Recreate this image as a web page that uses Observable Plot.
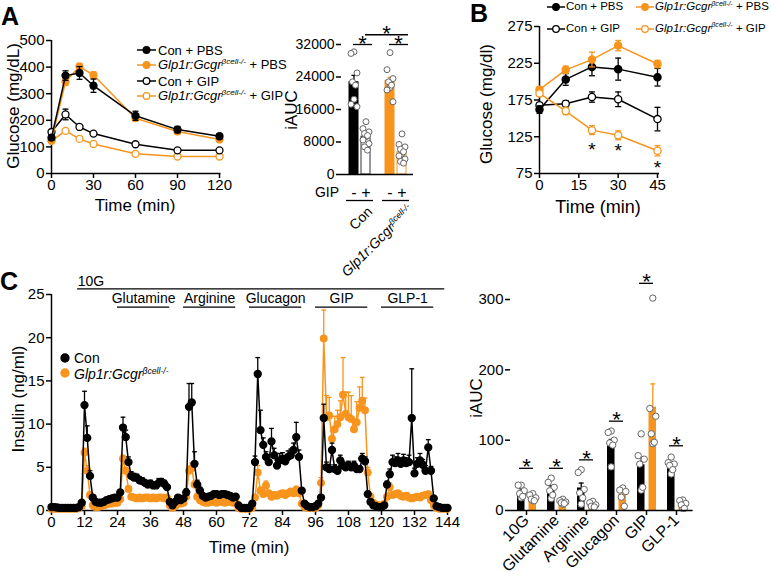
<!DOCTYPE html>
<html><head><meta charset="utf-8">
<script src="https://cdn.jsdelivr.net/npm/d3@7"></script>
<script src="https://cdn.jsdelivr.net/npm/@observablehq/plot@0.6"></script>
<style>
body{margin:0;background:#fff;}
#fig{position:relative;width:771px;height:575px;overflow:hidden;font-family:"Liberation Sans",Arial,sans-serif;color:#000;background:#fff;}
#fig svg{overflow:visible;}
.t{position:absolute;white-space:nowrap;line-height:1;}
.t sup{font-size:0.62em;vertical-align:0;position:relative;top:-0.62em;}
</style></head><body><div id="fig"></div>
<script>
// ---------------- Panel A : glucose curves ----------------
const timeA = [0, 10, 20, 30, 60, 90, 120];
const conPBS_A = [135, 368, 378, 330, 217, 165, 140];
const conPBS_Aerr = [10, 18, 24, 25, 17, 12, 10];
const koPBS_A = [125, 345, 402, 370, 208, 158, 128];
const koPBS_Aerr = [8, 14, 12, 12, 10, 9, 8];
const conGIP_A = [156, 222, 175, 150, 110, 87, 87];
const conGIP_Aerr = [6, 20, 8, 5, 4, 3, 3];
const koGIP_A = [123, 160, 130, 111, 74, 64, 64];
const koGIP_Aerr = [4, 5, 4, 4, 3, 3, 3];
const ticksAx = [0, 30, 60, 90, 120];
const ticksAy = [0, 100, 200, 300, 400, 500];

// ---------------- Panel A : iAUC ----------------
const aucKeysA = ["ConPBS", "ConGIP", "KOPBS", "KOGIP"];
const gipSignA = ["-", "+", "-", "+"];
const aucMeanA = [22700, 9300, 23000, 5500];
const aucErrA = [1700, 650, 900, 650];
const ptsConPBS_A = [30200, 29800, 25000, 22800, 22000, 18500, 17300, 16700];
const ptsConGIP_A = [13000, 11300, 10500, 10100, 9600, 9300, 8500, 7600, 6800, 6000];
const ptsKoPBS_A = [30000, 25800, 23600, 22800, 22000, 21400, 20800, 17900];
const ptsKoGIP_A = [10000, 7400, 6800, 6200, 5600, 5200, 4600, 3800, 3200, 2800];
const ticksAucA = [0, 8000, 16000, 24000, 32000];

// ---------------- Panel B ----------------
const timeB = [0, 10, 20, 30, 45];
const conPBS_B = [162, 203, 220, 217, 206];
const conPBS_Berr = [5, 8, 12, 15, 12];
const koPBS_B = [189, 216, 230, 249, 224];
const koPBS_Berr = [4, 5, 10, 7, 5];
const conGIP_B = [168, 170, 179, 176, 149];
const conGIP_Berr = [3, 4, 7, 10, 16];
const koGIP_B = [184, 160, 134, 127, 106];
const koGIP_Berr = [4, 5, 6, 6, 7];
const starTimesB = [20, 30, 45];
const starValsB = [109, 107.5, 85];
const ticksBx = [0, 15, 30, 45];
const ticksBy = [75, 125, 175, 225, 275];

// ---------------- Panel C : perifusion ----------------
const conC = [0.4,0.4,0.35,0.3,0.3,0.3,0.3,0.3,0.3,0.3,0.4,0.9,12.2,8.4,4.0,1.5,1.0,0.9,0.9,1.0,
  1.2,1.3,1.4,1.5,1.5,2.1,9.6,8.5,5.6,4.0,3.8,3.8,3.5,3.4,3.2,3.0,3.1,2.9,2.9,3.2,
  3.3,3.1,2.7,1.0,0.6,1.0,1.5,1.2,1.4,2.1,12.0,12.5,5.4,3.0,2.3,1.7,1.5,1.6,1.7,1.9,
  1.9,1.8,1.9,1.9,1.8,1.7,1.5,1.6,0.6,0.3,0.3,0.3,0.3,0.8,5.6,15.8,9.3,7.6,6.2,5.6,
  8.0,6.4,5.2,5.8,6.0,5.7,6.2,6.4,7.0,8.5,6.2,2.3,0.8,0.5,0.4,0.4,0.5,0.8,1.5,10.7,
  5.0,4.8,7.0,4.8,4.6,5.8,5.2,5.0,5.2,5.0,5.2,4.8,4.8,6.0,5.7,1.9,1.0,0.6,0.5,0.4,
  0.4,0.6,3.0,4.2,5.6,5.5,5.8,5.4,5.8,5.5,5.6,10.7,4.3,5.4,5.8,5.3,4.6,7.3,4.6,1.4,
  0.5,0.4,0.3,0.3,0.3];
const conCerr = [0,0,0,0,0,0,0,0,0,0,0,0.2,1.6,1.4,0.6,0.3,0.2,0.2,0.2,0.2,
  0.2,0.2,0.2,0.2,0.2,0.3,1.2,0.8,0.6,0.5,0.5,0.4,0.4,0.4,0.3,0.4,0.4,0.3,0.4,0.5,
  0.4,0.4,0.3,0.2,0.2,0.2,0.2,0.2,0.2,0.4,2.7,2.2,1.4,0.5,0.4,0.3,0.3,0.3,0.3,0.3,
  0.3,0.3,0.3,0.3,0.3,0.3,0.3,0.3,0.1,0.1,0.1,0.1,0.1,0.1,0.7,1.9,2.3,0.8,0.6,0.6,
  1.5,0.8,0.6,0.8,0.7,0.6,0.7,0.7,0.8,1.7,0.8,0.3,0.1,0.1,0.1,0.1,0.1,0.1,0.3,1.6,
  0.6,0.5,0.8,0.5,0.5,0.6,0.5,0.5,0.5,0.4,0.5,0.4,0.4,0.6,0.5,0.3,0.1,0.1,0.1,0.1,
  0.1,0.1,0.4,0.6,0.8,0.7,0.8,0.6,0.7,0.6,0.8,5.7,0.6,0.7,0.8,0.6,0.6,0.9,0.5,0.2,
  0.1,0.1,0.1,0.1,0.1];
const koC = [0.2,0.2,0.2,0.2,0.2,0.2,0.2,0.2,0.2,0.2,0.3,0.5,6.7,4.6,1.8,0.6,0.4,0.4,0.5,0.6,
  0.7,0.8,0.8,0.9,0.9,1.3,6.0,4.6,2.5,1.6,1.5,1.4,1.5,1.4,1.5,1.5,1.4,1.5,1.4,1.5,
  1.5,1.4,1.5,0.6,0.3,0.5,0.9,0.8,0.9,1.6,4.6,4.9,3.0,1.6,1.2,1.0,0.9,0.9,1.0,1.0,
  0.9,1.0,1.0,0.9,1.0,1.0,0.9,0.9,0.3,0.2,0.2,0.2,0.2,0.3,1.5,4.4,2.3,1.9,2.9,2.0,
  1.6,1.8,1.7,1.9,2.0,1.8,2.0,2.2,2.0,2.4,2.0,0.8,0.4,0.3,0.3,0.3,0.3,0.6,3.2,19.9,
  10.8,11.0,8.3,9.4,10.0,10.8,13.4,11.2,10.8,10.6,9.4,10.2,11.9,12.7,11.6,4.4,1.6,0.9,0.7,0.6,
  0.5,0.8,1.6,2.7,1.8,1.9,2.0,1.7,1.6,1.7,1.5,1.4,1.5,1.6,1.5,1.7,1.8,1.9,1.2,0.6,
  0.3,0.2,0.2,0.2,0.2];
const koCerr = [0,0,0,0,0,0,0,0,0,0,0,0.1,0.5,0.6,0.3,0.1,0.1,0.1,0.1,0.1,
  0.1,0.1,0.1,0.1,0.1,0.2,0.4,0.4,0.3,0.2,0.2,0.2,0.2,0.2,0.2,0.2,0.2,0.2,0.2,0.2,
  0.2,0.2,0.2,0.1,0.1,0.1,0.1,0.1,0.1,0.2,0.5,0.6,0.4,0.2,0.2,0.1,0.1,0.1,0.1,0.1,
  0.1,0.1,0.1,0.1,0.1,0.1,0.1,0.1,0.1,0,0,0,0,0.1,0.3,0.8,0.4,0.3,0.5,0.3,
  0.3,0.3,0.3,0.3,0.3,0.3,0.3,0.3,0.3,0.4,0.3,0.1,0.1,0,0,0,0,0.1,0.6,3.3,
  2.5,2.1,0.9,1.5,1.6,1.9,4.3,2.5,2.9,2.7,1.2,2.4,2.4,2.7,1.4,0.6,0.2,0.1,0.1,0.1,
  0.1,0.1,0.2,0.5,0.3,0.3,0.3,0.3,0.3,0.3,0.3,0.3,0.3,0.3,0.3,0.3,0.3,0.3,0.2,0.1,
  0,0,0,0,0];
const ticksCx = [0, 12, 24, 36, 48, 60, 72, 84, 96, 108, 120, 132, 144];
const ticksCy = [0, 5, 10, 15, 20, 25];
const treatNames = ["Glutamine", "Arginine", "Glucagon", "GIP", "GLP-1"];
const treatStart = [24, 48, 72, 96, 120];
const treatEnd = [43, 67, 91, 115, 139];
const baseName = "10G", baseStart = 9.5, baseEnd = 143;

// ---------------- Panel C : iAUC ----------------
const stimC = ["10G", "Glutamine", "Arginine", "Glucagon", "GIP", "GLP-1"];
const aucConC = [27, 31, 32, 96, 65, 64];
const aucConCerr = [4, 4, 7, 5, 10, 3];
const aucKoC = [18, 12, 8, 23, 147, 9];
const aucKoCerr = [2, 1.5, 1, 4, 33, 2];
const ptsConC = [[36,36,28,24,20,18],[46,40,33,28,22,17],[58,54,30,25,18,9],[113,111,100,96,93,62],[109,78,73,66,33,29],[76,68,66,64,58,52]];
const ptsKoC = [[24,22,18,16,14,14],[16,14,12,11,10,9],[13,11,8,6,5,5],[32,29,27,19,6],[302,145,134,109,97,95],[15,14,10,8,3,3]];
const sigC = [60, 60, 72, 127, 323, 92];
const ticksCr = [0, 100, 200, 300];

// =====================================================
const fig = document.getElementById("fig");
const FONT = "'Liberation Sans', Arial, Helvetica, sans-serif";
const OR = "#f7941d";
const capSym = {draw(ctx, size) { const w = Math.sqrt(size / Math.PI); ctx.moveTo(-w, 0); ctx.lineTo(w, 0); }};
const st = (fs) => ({fontFamily: FONT, fontSize: fs + "px", color: "#000", background: "transparent", overflow: "visible"});

function place(svg, left, top) {
  svg.style.position = "absolute"; svg.style.left = left + "px"; svg.style.top = top + "px";
  fig.append(svg);
}
function addText(html, x, y, fs, o = {}) {
  const d = document.createElement("div");
  d.className = "t"; d.innerHTML = html; d.style.fontSize = fs + "px";
  d.style.left = x + "px"; d.style.top = y + "px";
  const ax = o.anchor === "middle" ? "-50%" : o.anchor === "end" ? "-100%" : "0";
  d.style.transform = o.rotate ? `translate(-50%,-50%) rotate(${o.rotate}deg)` : `translate(${ax},-50%)`;
  if (o.weight) d.style.fontWeight = o.weight;
  fig.append(d);
}
function addRot45(html, x, y, fs) {
  const d = document.createElement("div");
  d.className = "t"; d.innerHTML = html; d.style.fontSize = fs + "px";
  d.style.right = (771 - x) + "px"; d.style.top = y + "px";
  d.style.transformOrigin = "100% 0"; d.style.transform = "rotate(-45deg)";
  fig.append(d);
}
function addIcon(x, y, w, color, open, line = true, r = 3.3) {
  const s = d3.create("svg").attr("width", w).attr("height", 12)
    .style("position", "absolute").style("left", x + "px").style("top", (y - 6) + "px");
  if (line) s.append("line").attr("x1", 0).attr("x2", w).attr("y1", 6).attr("y2", 6).attr("stroke", color).attr("stroke-width", 1.5);
  s.append("circle").attr("cx", w / 2).attr("cy", 6).attr("r", r).attr("fill", open ? "#fff" : color).attr("stroke", color).attr("stroke-width", 1.3);
  fig.append(s.node());
}
const KO = "<i>Glp1r:Gcgr</i><sup><i>βcell-/-</i></sup>";

function groupMarks(xs, ys, es, color, open, both, r, capR) {
  const rows = xs.map((x, i) => ({x, y: ys[i], e: es[i]}));
  const er = rows.filter(d => d.e > 0);
  const m = [
    Plot.ruleX(er, {x: "x", y1: d => both ? d.y - d.e : d.y, y2: d => d.y + d.e, stroke: color, strokeWidth: 1.3}),
    Plot.dot(er, {x: "x", y: d => d.y + d.e, symbol: capSym, r: capR, stroke: color, strokeWidth: 1.3, fill: "none"})
  ];
  if (both) m.push(Plot.dot(er, {x: "x", y: d => d.y - d.e, symbol: capSym, r: capR, stroke: color, strokeWidth: 1.3, fill: "none"}));
  m.push(Plot.line(rows, {x: "x", y: "y", stroke: color, strokeWidth: 1.5}));
  m.push(Plot.dot(rows, {x: "x", y: "y", r, fill: open ? "#fff" : color, stroke: color, strokeWidth: 1.3}));
  return m;
}
function jitterDots(pts, opts, base) {
  const offs = [0, -3, 3, -1.5, 1.5];
  return offs.map((o, j) => Plot.dot(pts.filter(p => p.i % 5 === j), {...opts, dx: base + o}));
}

// ---------- A1 ----------
place(Plot.plot({
  width: 232, height: 165, marginLeft: 51, marginRight: 13, marginTop: 10, marginBottom: 22,
  style: st(15), x: {domain: [0, 120]}, y: {domain: [0, 500]},
  marks: [
    Plot.axisX({ticks: ticksAx, tickSize: 5, tickPadding: 1, label: null, strokeWidth: 1.5, fontSize: 15}),
    Plot.axisY({ticks: ticksAy, tickSize: 5, tickPadding: 2, label: null, strokeWidth: 1.5, fontSize: 15}),
    Plot.ruleX([0], {y1: 0, y2: 500, strokeWidth: 1.5}),
    Plot.ruleY([0], {x1: 0, x2: 121, strokeWidth: 1.5}),
    ...groupMarks(timeA, koGIP_A, koGIP_Aerr, OR, true, true, 3.5, 3),
    ...groupMarks(timeA, conGIP_A, conGIP_Aerr, "#000", true, true, 3.5, 3),
    ...groupMarks(timeA, koPBS_A, koPBS_Aerr, OR, false, true, 3.5, 3),
    ...groupMarks(timeA, conPBS_A, conPBS_Aerr, "#000", false, true, 3.5, 3)
  ]
}), 0, 30);

// ---------- A2 ----------
const keysA = ["ConPBS", "ConGIP", "gap", "KOPBS", "KOGIP"];
const aucRowsA = aucKeysA.map((k, i) => ({k, mean: aucMeanA[i], err: aucErrA[i], i}));
const aFill = ["#000", "#fff", OR, "#fff"], aStroke = ["#000", "#333", OR, OR];
const ptRowsA = [ptsConPBS_A, ptsConGIP_A, ptsKoPBS_A, ptsKoGIP_A].flatMap((arr, g) => arr.map((v, i) => ({k: aucKeysA[g], v, i})));
const sigA = [{from: "ConPBS", to: "ConGIP", at: "ConPBS", y: 32000}, {from: "KOPBS", to: "KOGIP", at: "KOPBS", y: 32000}, {from: "ConGIP", to: "KOGIP", at: "gap", y: 34400}];
place(Plot.plot({
  width: 130, height: 185, marginLeft: 51, marginRight: 7, marginTop: 24, marginBottom: 31,
  style: st(14),
  x: {type: "band", domain: keysA, paddingInner: 0.25, paddingOuter: 0.625},
  y: {domain: [0, 32000]},
  marks: [
    Plot.axisY({ticks: ticksAucA, tickFormat: d3.format("d"), tickSize: 5, tickPadding: 2, label: null, strokeWidth: 1.5, line: true, fontSize: 14}),
    Plot.axisX({tickSize: 0, tickPadding: 12, label: null, fontSize: 16, tickFormat: k => { const i = aucKeysA.indexOf(k); return i < 0 ? "" : gipSignA[i]; }}),
    Plot.barY(aucRowsA, {x: "k", y: "mean", fill: d => aFill[d.i], stroke: d => aStroke[d.i], strokeWidth: 1}),
    Plot.ruleX(aucRowsA, {x: "k", y1: "mean", y2: d => d.mean + d.err, stroke: d => aStroke[d.i] === OR ? OR : "#000", strokeWidth: 1.3}),
    Plot.dot(aucRowsA, {x: "k", y: d => d.mean + d.err, symbol: capSym, r: 2.5, stroke: d => aStroke[d.i] === OR ? OR : "#000", strokeWidth: 1.3, fill: "none"}),
    ...jitterDots(ptRowsA, {x: "k", y: "v", r: 3, fill: "#fff", stroke: "#666", strokeWidth: 1}, 0),
    Plot.ruleY([0], {strokeWidth: 1.5}),
    Plot.ruleY(sigA, {x1: "from", x2: "to", y: "y", insetLeft: 4, insetRight: -2, strokeWidth: 1.3}),
    Plot.text(sigA, {x: "at", y: "y", text: () => "*", dx: 8.5, dy: -1, fontSize: 22}),
    Plot.ruleY([{a: "ConPBS", b: "ConGIP"}, {a: "KOPBS", b: "KOGIP"}], {x1: "a", x2: "b", y: () => 0, dy: 26, insetLeft: -3, insetRight: -3, strokeWidth: 1.3})
  ]
}), 290, 20);

// ---------- B ----------
const starRowsB = starTimesB.map((t, i) => ({t, v: starValsB[i]}));
place(Plot.plot({
  width: 200, height: 200, marginLeft: 69, marginRight: 13, marginTop: 11, marginBottom: 42,
  style: st(15), x: {domain: [0, 45]}, y: {domain: [75, 275]},
  marks: [
    Plot.axisX({ticks: ticksBx, tickSize: 5, tickPadding: 1, label: null, strokeWidth: 1.5, fontSize: 15}),
    Plot.axisY({ticks: ticksBy, tickSize: 5, tickPadding: 2, label: null, strokeWidth: 1.5, fontSize: 15}),
    Plot.ruleX([0], {y1: 75, y2: 275, strokeWidth: 1.5}),
    Plot.ruleY([75], {x1: 0, x2: 45.8, strokeWidth: 1.5}),
    ...groupMarks(timeB, conGIP_B, conGIP_Berr, "#000", true, true, 3.6, 3),
    ...groupMarks(timeB, conPBS_B, conPBS_Berr, "#000", false, true, 3.6, 3),
    ...groupMarks(timeB, koPBS_B, koPBS_Berr, OR, false, true, 3.6, 3),
    ...groupMarks(timeB, koGIP_B, koGIP_Berr, OR, true, true, 3.6, 3),
    Plot.text(starRowsB, {x: "t", y: "v", text: () => "*", fontSize: 19, dy: 1.5})
  ]
}), 470, 15);

// ---------- C left ----------
const tC = conC.map((_, i) => i);
const treatRows = treatNames.map((n, i) => ({n, s: treatStart[i], e: treatEnd[i]}));
const yTopC = ticksCy[ticksCy.length - 1];
place(Plot.plot({
  width: 460, height: 265, marginLeft: 51, marginRight: 13, marginTop: 29, marginBottom: 20,
  style: st(15), x: {domain: [0, 144]}, y: {domain: [0, 25]},
  marks: [
    Plot.axisX({ticks: ticksCx, tickSize: 5, tickPadding: 1, label: null, strokeWidth: 1.5, fontSize: 15}),
    Plot.axisY({ticks: ticksCy, tickSize: 5, tickPadding: 2, label: null, strokeWidth: 1.5, fontSize: 15}),
    Plot.ruleX([0], {y1: 0, y2: 25, strokeWidth: 1.5}),
    Plot.ruleY([0], {x1: 0, x2: 145, strokeWidth: 1.5}),
    Plot.ruleY([{s: baseStart, e: baseEnd}], {x1: "s", x2: "e", y: () => yTopC, dy: -5.7, strokeWidth: 1.3}),
    Plot.text([{n: baseName, s: baseStart}], {x: "s", y: () => yTopC, text: "n", textAnchor: "start", dy: -13.3, fontSize: 14}),
    Plot.ruleY(treatRows, {x1: "s", x2: "e", y: () => yTopC, dy: 12.7, strokeWidth: 1.3}),
    Plot.text(treatRows, {x: d => (d.s + d.e) / 2, y: () => yTopC, text: "n", dy: 3.7, fontSize: 14}),
    ...groupMarks(tC, koC, koCerr, OR, false, false, 3.3, 2.4),
    ...groupMarks(tC, conC, conCerr, "#000", false, false, 3.5, 2.4)
  ]
}), 0, 265);

// ---------- C right ----------
const rowsCr = stimC.map((s, i) => ({s, con: aucConC[i], conE: aucConCerr[i], ko: aucKoC[i], koE: aucKoCerr[i], sig: sigC[i]}));
const ptsConRows = ptsConC.flatMap((arr, g) => arr.map((v, i) => ({s: stimC[g], v, i})));
const ptsKoRows = ptsKoC.flatMap((arr, g) => arr.map((v, i) => ({s: stimC[g], v, i})));
place(Plot.plot({
  width: 230, height: 315, marginLeft: 40, marginRight: 7.4, marginTop: 39, marginBottom: 65,
  style: st(15),
  x: {type: "band", domain: stimC, padding: 0},
  y: {domain: [0, 300]},
  marks: [
    Plot.axisY({ticks: ticksCr, tickSize: 5, tickPadding: 2, label: null, strokeWidth: 1.5, line: true, fontSize: 15}),
    Plot.axisX({tickSize: 5, tickPadding: 2, tickRotate: -45, label: null, strokeWidth: 1.5, fontSize: 16}),
    Plot.barY(rowsCr, {x: "s", y: "con", fill: "#000", insetLeft: 6, insetRight: 16.5}),
    Plot.barY(rowsCr, {x: "s", y: "ko", fill: OR, insetLeft: 17.5, insetRight: 5}),
    Plot.ruleX(rowsCr, {x: "s", y1: "con", y2: d => d.con + d.conE, dx: -5.3, strokeWidth: 1.3}),
    Plot.dot(rowsCr, {x: "s", y: d => d.con + d.conE, dx: -5.3, symbol: capSym, r: 2.5, stroke: "#000", strokeWidth: 1.3, fill: "none"}),
    Plot.ruleX(rowsCr, {x: "s", y1: "ko", y2: d => d.ko + d.koE, dx: 6.3, stroke: OR, strokeWidth: 1.3}),
    Plot.dot(rowsCr, {x: "s", y: d => d.ko + d.koE, dx: 6.3, symbol: capSym, r: 2.5, stroke: OR, strokeWidth: 1.3, fill: "none"}),
    ...jitterDots(ptsConRows, {x: "s", y: "v", r: 3.2, fill: "#fff", stroke: "#666", strokeWidth: 1}, -5.3),
    ...jitterDots(ptsKoRows, {x: "s", y: "v", r: 3.2, fill: "#fff", stroke: "#666", strokeWidth: 1}, 6.3),
    Plot.ruleY([0], {strokeWidth: 1.5}),
    Plot.ruleY(rowsCr, {x1: "s", x2: "s", y: "sig", insetLeft: 8, insetRight: 8, strokeWidth: 1.3}),
    Plot.text(rowsCr, {x: "s", y: "sig", text: () => "*", dy: -1, fontSize: 22})
  ]
}), 470, 260);

// ---------- HTML text: panel letters, titles, legends ----------
addText("A", 1, 16, 25, {weight: "bold"});
addText("B", 470, 13, 25, {weight: "bold"});
addText("C", 0, 281, 25, {weight: "bold"});

addText("Glucose (mg/dL)", 13, 106, 17, {rotate: -90});
addText("Time (min)", 135, 205, 17, {anchor: "middle"});
addText("iAUC", 291, 110, 17, {rotate: -90});
addText("GIP", 327, 192, 14, {anchor: "middle"});
addRot45("Con", 365, 204, 14);
addRot45(KO, 406, 202, 14);

addText("Glucose (mg/dl)", 486, 104, 17, {rotate: -90});
addText("Time (min)", 598, 207, 18, {anchor: "middle"});

addText("Insulin (ng/ml)", 18, 399, 17, {rotate: -90});
addText("Time (min)", 249, 547, 17, {anchor: "middle"});
addText("iAUC", 476, 398, 17, {rotate: -90});

// legend A
const legA = [["Con + PBS", "#000", false, 50], [KO + " + PBS", OR, false, 64.5], ["Con + GIP", "#000", true, 81], [KO + " + GIP", OR, true, 96]];
legA.forEach(([txt, c, open, y]) => { addIcon(137, y, 19, c, open); addText(txt, 158, y, 13); });
// legend B
addIcon(547, 7, 18, "#000", false); addText("Con + PBS", 566, 7, 11.5);
addIcon(636, 7, 18, OR, false); addText(KO + " + PBS", 655, 7, 11.5);
addIcon(547, 28.5, 18, "#000", true); addText("Con + GIP", 566, 28.5, 11.5);
addIcon(636, 28.5, 18, OR, true); addText(KO + " + GIP", 655, 28.5, 11.5);
// legend C
addIcon(59, 358, 12, "#000", false, false, 4); addText("Con", 74, 358, 14);
addIcon(59, 373, 12, OR, false, false, 4); addText(KO, 74, 374, 14);
</script></body></html>
